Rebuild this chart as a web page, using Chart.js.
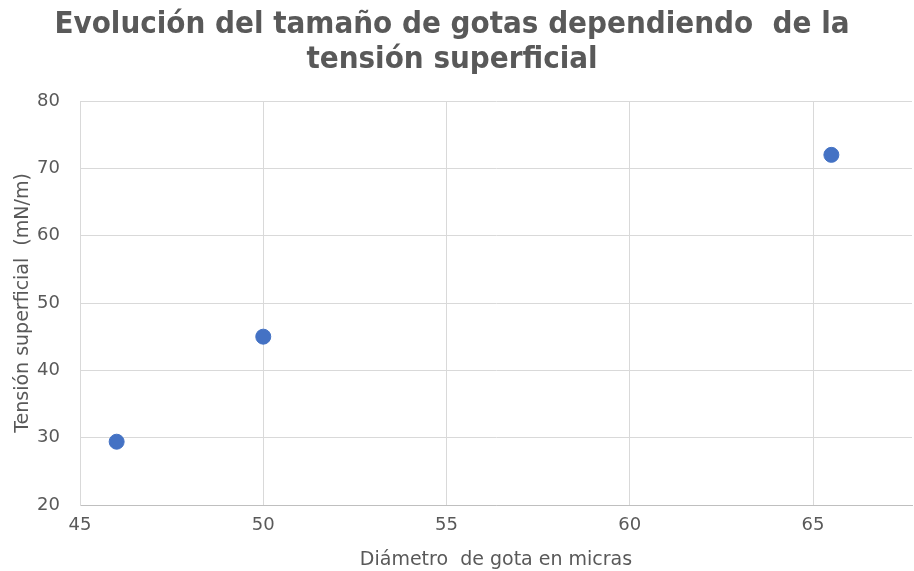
<!DOCTYPE html>
<html>
<head>
<meta charset="utf-8">
<script src="https://cdn.jsdelivr.net/npm/chart.js@4/dist/chart.umd.min.js"></script>
<style>
  html, body { margin: 0; padding: 0; background: #ffffff; }
  #wrap { width: 914px; height: 571px; }
</style>
</head>
<body>
<div id="wrap"><canvas id="c" width="914" height="571"></canvas></div>
<script>
// Droplet diameter (microns) vs. surface tension (mN/m)
const diametros = [46.0, 50.0, 65.5];
const tensiones = [29.4, 45.0, 72.0];
const tituloLineas = ['Evolución del tamaño de gotas dependiendo  de la', 'tensión superficial'];
const tituloX = 'Diámetro  de gota en micras';
const tituloY = 'Tensión superficial  (mN/m)';

const gris = '#595959';
const fuente = "'DejaVu Sans', Verdana, sans-serif";
const fuenteTitulo = "'DejaVu Sans Condensed', 'DejaVu Sans', sans-serif";
const puntos = diametros.map((x, i) => ({ x: x, y: tensiones[i] }));

// Two-line chart heading, centred slightly left of the canvas middle
const tituloPlugin = {
  id: 'tituloGrafico',
  afterDraw(chart) {
    const ctx = chart.ctx;
    ctx.save();
    ctx.fillStyle = gris;
    ctx.font = 'bold 31px ' + fuenteTitulo;
    ctx.textAlign = 'center';
    ctx.textBaseline = 'alphabetic';
    ctx.fillText(tituloLineas[0], 452, 33);
    ctx.fillText(tituloLineas[1], 452, 68);
    ctx.restore();
  }
};

new Chart(document.getElementById('c'), {
  type: 'scatter',
  data: {
    datasets: [{
      data: puntos,
      backgroundColor: '#4472C4',
      borderColor: '#4472C4',
      borderWidth: 1,
      pointRadius: 7.5,
      pointHoverRadius: 7.5
    }]
  },
  plugins: [tituloPlugin],
  options: {
    responsive: false,
    animation: false,
    layout: { autoPadding: false, padding: { top: 101, right: 2, left: 12, bottom: 0 } },
    plugins: {
      legend: { display: false },
      tooltip: { enabled: false },
      title: { display: false }
    },
    scales: {
      x: {
        type: 'linear',
        min: 45,
        max: 67.7,
        afterBuildTicks: (s) => { s.ticks = s.ticks.filter(t => t.value % 5 === 0); },
        afterFit: (s) => { s.height = 66; },
        ticks: { stepSize: 5, color: gris, font: { family: fuente, size: 18 }, padding: 10 },
        grid: { color: '#d9d9d9', lineWidth: 1, drawTicks: false },
        border: { color: '#bfbfbf', width: 1 },
        title: {
          display: true,
          text: tituloX,
          color: gris,
          font: { family: fuente, size: 19 },
          padding: { top: 6, bottom: 0 }
        }
      },
      y: {
        min: 20,
        max: 80,
        afterFit: (s) => { s.width = 68; },
        ticks: { stepSize: 10, color: gris, font: { family: fuente, size: 18 }, padding: 20 },
        grid: { color: '#d9d9d9', lineWidth: 1, drawTicks: false },
        border: { color: '#d9d9d9', width: 1 },
        title: {
          display: true,
          text: tituloY,
          color: gris,
          font: { family: fuente, size: 19 },
          padding: { top: 0, bottom: 6 }
        }
      }
    }
  }
});
</script>
</body>
</html>
